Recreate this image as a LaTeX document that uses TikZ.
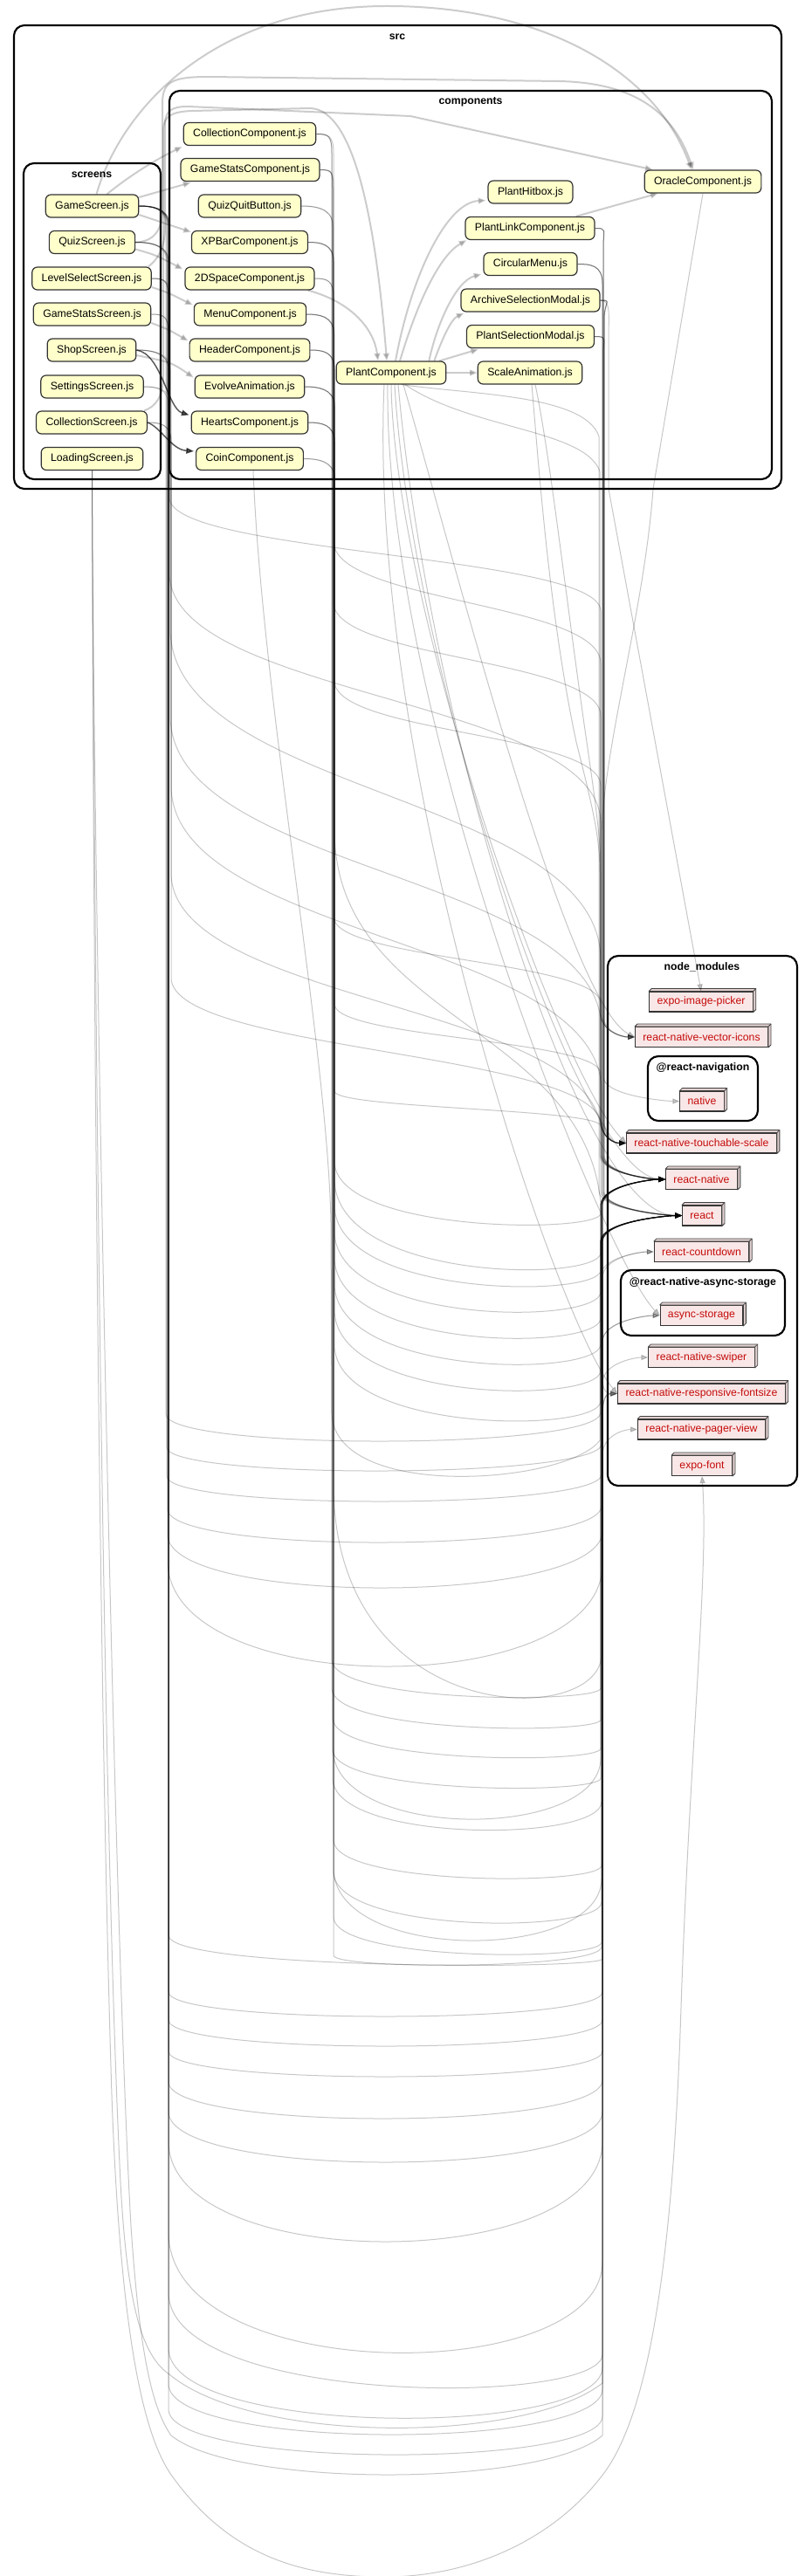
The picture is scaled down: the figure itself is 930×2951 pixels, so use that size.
\documentclass[tikz,border=0pt]{standalone}
\usepackage{fontspec}
\setmainfont{Liberation Sans}
\usetikzlibrary{arrows.meta,calc}
\definecolor{srcfill}{HTML}{FFFFCC}
\definecolor{nmfill}{RGB}{249,231,231}
\definecolor{nmside}{RGB}{226,208,208}
\definecolor{nmtext}{HTML}{C40B0A}
\newcommand\nfont{\fontsize{9.2}{11}\selectfont}
\newcommand\cfont{\bfseries\fontsize{9.2}{11}\selectfont}

\newcommand\nmnode[4]{%
  \node[nmn] (#1) at (#2,#3) {#4};
  \filldraw[nm3d] (#1.north west) -- ++(3,-3) -- ($(#1.north east)+(3,-3)$) -- ($(#1.south east)+(3,-3)$) -- (#1.south east) -- (#1.north east) -- cycle;
  \draw[nm3d] (#1.north east) -- ++(3,-3);}

\newcommand\uEdge[8]{%
  \pgfmathsetmacro\ucc{#5+(2*#5-#4-#7)/6}%
  \draw[#1] (#2.east) .. controls ($(#2.east)+(14,0)$) and ($(#2.east -| #3,0)+(0,2)$) .. ($(#2.east -| #3,0)+(0,22)$) -- (#3,#4) .. controls (#3,\ucc) and (#6,\ucc) .. (#6,#7) -- ($(#8.west -| #6,0)+(0,30)$) .. controls ($(#8.west -| #6,0)+(0,6)$) and ($(#8.west)+(-14,0)$) .. (#8.west);}

\newcommand\dEdge[7]{%
  \pgfmathsetmacro\dkk{(#6-#4)/2}%
  \draw[#1] (#2.east) .. controls ($(#2.east)+(14,0)$) and ($(#2.east -| #3,0)+(0,2)$) .. ($(#2.east -| #3,0)+(0,22)$) -- (#3,#4) .. controls (#3,#4+\dkk) and (#5,#6-\dkk) .. (#5,#6) -- ($(#7.west -| #5,0)+(0,-28)$) .. controls ($(#7.west -| #5,0)+(0,-6)$) and ($(#7.west)+(-14,0)$) .. (#7.west);}

\newcommand\tEdge[4]{%
  \draw[#1] (#2.east) .. controls ($(#2.east)+(14,0)$) and ($(#2.east -| #3,0)+(0,1)$) .. ($(#2.east -| #3,0)+(0,22)$) -- ($(#4.west -| #3,0)+(0,-28)$) .. controls ($(#4.west -| #3,0)+(0,-6)$) and ($(#4.west)+(-14,0)$) .. (#4.west);}

\newcommand\aEdge[4]{\draw[#1] #2 -- ($(#4.west -| #3,0)+(0,-28)$) .. controls ($(#4.west -| #3,0)+(0,-6)$) and ($(#4.west)+(-14,0)$) .. (#4.west);}
\newcommand\bEdge[4]{\draw[#1] #2 -- ($(#4.west -| #3,0)+(0,30)$) .. controls ($(#4.west -| #3,0)+(0,6)$) and ($(#4.west)+(-14,0)$) .. (#4.west);}

\begin{document}
\begin{tikzpicture}[x=0.75pt,y=-0.75pt,
  srcn/.style={draw=black!80, line width=0.9pt, fill=srcfill, rounded corners=4.5pt, minimum height=19.5pt, inner xsep=8.2pt, inner ysep=0pt, font=\nfont},
  nmn/.style={draw=black!80, line width=0.8pt, fill=nmfill, minimum height=17.2pt, inner xsep=6.6pt, inner ysep=0pt, text=nmtext, font=\nfont},
  nm3d/.style={draw=black!75, line width=0.6pt, fill=nmside, line join=round},
  clus/.style={draw=black, line width=1.6pt, rounded corners=9pt},
  clab/.style={font=\cfont, inner sep=0pt},
  edg/.style={draw=black, opacity=0.22, line width=0.75pt, -{Triangle[length=6pt,width=4.6pt]}},
  edgt/.style={draw=black, opacity=0.2, line width=1.5pt, -{Triangle[length=6.5pt,width=5pt]}},
  edgd/.style={draw=black, opacity=0.65, line width=1.1pt, -{Triangle[length=6.5pt,width=5pt]}},
]
\fill[white] (0,0) rectangle (930,2951);
\useasboundingbox (0,0) rectangle (930,2951);

% clusters
\draw[clus] (16,29) rectangle (895,560);
\node[clab] at (455,42) {src};
\draw[clus] (194,104) rectangle (884,549);
\node[clab] at (539,117) {components};
\draw[clus] (27,187) rectangle (184,549);
\node[clab] at (105,200) {screens};
\draw[clus] (696,1095) rectangle (913,1702);
\node[clab] at (804,1108) {node\_modules};
\draw[clus] (742,1210) rectangle (868,1284);
\node[clab] at (805,1223) {@react-navigation};
\draw[clus] (711,1455) rectangle (899,1530);
\node[clab] at (805,1469) {@react-native-async-storage};

% screens
\node[srcn] (GS) at (105.5,236) {GameScreen.js};
\node[srcn] (QS) at (105.5,277.5) {QuizScreen.js};
\node[srcn] (LS) at (105,319) {LevelSelectScreen.js};
\node[srcn] (GSS) at (105.5,360) {GameStatsScreen.js};
\node[srcn] (SS) at (105,401) {ShopScreen.js};
\node[srcn] (SeS) at (105.5,443) {SettingsScreen.js};
\node[srcn] (CS) at (105,484) {CollectionScreen.js};
\node[srcn] (LoS) at (105.5,525.5) {LoadingScreen.js};

% components column 1
\node[srcn] (CC) at (286,153.5) {CollectionComponent.js};
\node[srcn] (GSC) at (286.5,194.5) {GameStatsComponent.js};
\node[srcn] (QQB) at (286,236) {QuizQuitButton.js};
\node[srcn] (XP) at (286,277.5) {XPBarComponent.js};
\node[srcn] (TwoD) at (286,319) {2DSpaceComponent.js};
\node[srcn] (MC) at (286.5,360) {MenuComponent.js};
\node[srcn] (HC) at (286,401) {HeaderComponent.js};
\node[srcn] (EA) at (286,443) {EvolveAnimation.js};
\node[srcn] (HeC) at (286,484) {HeartsComponent.js};
\node[srcn] (CoC) at (286,525.5) {CoinComponent.js};

\node[srcn] (PC) at (448,427) {PlantComponent.js};

\node[srcn] (PH) at (607.5,220) {PlantHitbox.js};
\node[srcn] (PL) at (607,261.5) {PlantLinkComponent.js};
\node[srcn] (CM) at (607.5,302.5) {CircularMenu.js};
\node[srcn] (AS) at (607.5,344) {ArchiveSelectionModal.js};
\node[srcn] (PS) at (607.5,385.5) {PlantSelectionModal.js};
\node[srcn] (SA) at (607,427) {ScaleAnimation.js};

\node[srcn] (OC) at (805,208) {OracleComponent.js};

% node_modules
\nmnode{EIP}{803}{1147.5}{expo-image-picker}
\nmnode{VI}{803.5}{1188}{react-native-vector-icons}
\nmnode{NAV}{804}{1261.5}{native}
\nmnode{TS}{803.5}{1309.5}{react-native-touchable-scale}
\nmnode{RN}{803.5}{1351}{react-native}
\nmnode{RE}{804}{1392.5}{react}
\nmnode{CD}{803.5}{1434}{react-countdown}
\nmnode{AST}{803.5}{1507}{async-storage}
\nmnode{SW}{803.5}{1555}{react-native-swiper}
\nmnode{RF}{803.5}{1596.5}{react-native-responsive-fontsize}
\nmnode{PV}{803.5}{1637.5}{react-native-pager-view}
\nmnode{EF}{804}{1679}{expo-font}

% ---------- short edges inside src ----------
\draw[edgt] ($(GS.north)+(17,0)$) .. controls (150,200) and (180,182) .. ($(CC.south west)+(-1,1)$);
\draw[edgt] ($(GS.east)+(0,-10)$) -- ($(GSC.south west)+(12,1)$);
\draw[edgt] ($(GS.east)+(0,10)$) -- ($(XP.north west)+(0,2)$);
\draw[edgt] ($(QS.east)+(0,8)$) .. controls (178,292) .. ($(TwoD.north west)+(-2,3)$);
\draw[edgt] ($(LS.east)+(0,10)$) .. controls (192,335) .. ($(MC.north west)+(-1,3)$);
\draw[edgt] ($(GSS.east)+(0,10)$) .. controls (192,377) .. ($(HC.north west)+(-1,3)$);
\draw[edgt] ($(SS.east)+(0,6)$) .. controls (196,415) .. ($(EA.north west)+(-1,3)$);
\draw[edgd] (SS.east) .. controls (185,405) and (192,468) .. ($(HeC.north west)+(-2,5)$);
\draw[edgd] (CS.east) .. controls (185,490) and (196,515) .. ($(CoC.north west)+(-2,5)$);

% arcs to OracleComponent and PlantComponent
\draw[edgt] ($(GS.north)+(5,0)$) .. controls (140,120) and (250,8) .. (440,7) .. controls (620,6) and (750,80) .. ($(OC.north)+(-13,0)$);
\draw[edgt] (QS.east) .. controls (175,277) and (186,265) .. (186,240) -- (186,118) .. controls (186,92) and (200,88) .. (240,88) -- (640,93) .. controls (740,95) and (775,140) .. ($(OC.north)+(-11,0)$);
\draw[edgt] ($(LS.north east)+(-4,0)$) .. controls (180,298) and (189,285) .. (189,260) -- (189,142) .. controls (189,127) and (197,122) .. (215,122) -- (470,133) -- ($(OC.north west)+(10,0)$);
\draw[edgt] ($(CS.north east)+(-4,0)$) .. controls (178,466) and (187,455) .. (187,430) -- (187,150) .. controls (187,133) and (196,128) .. (220,127) -- (355,124) .. controls (405,125) and (430,250) .. ($(PC.north)+(-5,0)$);
\draw[edgt] ($(TwoD.south east)+(-8,0)$) .. controls (400,345) and (428,375) .. ($(PC.north)+(-15,0)$);

% PlantComponent fan
\draw[edgt] ($(PC.north)+(5,0)$) .. controls (470,320) and (510,232) .. ($(PH.south west)+(-2,-4)$);
\draw[edgt] ($(PC.north)+(10,0)$) .. controls (480,340) and (505,292) .. ($(PL.south west)+(2,0)$);
\draw[edgt] ($(PC.north east)+(-20,0)$) .. controls (500,372) and (522,322) .. ($(CM.south west)+(-2,-2)$);
\draw[edgt] ($(PC.north east)+(-14,0)$) .. controls (505,392) and (516,366) .. ($(AS.south west)+(4,1)$);
\draw[edgt] ($(PC.north east)+(-8,0)$) -- ($(PS.south west)+(14,1)$);
\draw[edgt] (PC.east) -- (SA.west);
\draw[edgt] ($(PL.north east)+(-22,0)$) -- ($(OC.south west)+(16,0)$);

% ---------- components column 3 down the right trunk ----------
\tEdge{edg}{PL}{691}{NAV}
\tEdge{edg}{PL}{691}{RN}
\tEdge{edg}{PL}{691}{RE}
\tEdge{edg}{CM}{690}{VI}
\tEdge{edg}{CM}{690}{RN}
\tEdge{edg}{CM}{690}{RE}
\tEdge{edg}{AS}{692}{TS}
\tEdge{edg}{AS}{692}{RN}
\tEdge{edg}{AS}{692}{RE}
\tEdge{edg}{PS}{691}{TS}
\tEdge{edg}{PS}{691}{RN}
\tEdge{edg}{PS}{691}{RE}
\draw[edg] (AS.east) .. controls (700,344) and (697,360) .. (697,390) -- (697,560) -- (EIP.north);
\aEdge{edg}{(OC.south) -- (748,560) .. controls (738,700) and (690,860) .. (689,960)}{689}{RN}
\aEdge{edg}{($(SA.south)+(2,0)$) .. controls (616,520) and (628,700) .. (660,850) .. controls (680,930) and (687,960) .. (687,1000)}{687}{RN}
\aEdge{edg}{($(SA.south)+(6,0)$) .. controls (630,520) and (650,700) .. (672,850) .. controls (682,920) and (688,960) .. (688,1000)}{688}{RE}

% PlantComponent to node_modules
\aEdge{edg}{($(PC.south)+(12,0)$) .. controls (540,452) and (670,452) .. (686,500) -- (686,560)}{686}{RE}
\aEdge{edg}{($(PC.south)+(16,0)$) .. controls (540,492) and (670,492) .. (687,540) -- (687,600)}{687}{TS}
\draw[edg] (PC.south) .. controls (452,700) and (640,1230) .. (TS.west);
\draw[edg] ($(PC.south)+(4,0)$) .. controls (470,760) and (660,1345) .. (RN.west);
\draw[edg] ($(PC.south)+(8,0)$) .. controls (490,820) and (660,1392) .. (RE.west);
\draw[edg] ($(PC.south)+(-4,0)$) .. controls (440,820) and (690,1440) .. (AST.west);
\draw[edg] ($(PC.south)+(-8,0)$) .. controls (420,880) and (640,1520) .. (RF.west);
\draw[edg] ($(PC.south)+(14,0)$) .. controls (520,640) and (650,1150) .. (VI.west);

% ---------- screens: S-curves from the left trunk ----------
\dEdge{edg}{GS}{194}{570}{688}{700}{VI}
\dEdge{edg}{GS}{194}{656}{688}{943}{TS}
\dEdge{edg}{LS}{195}{720}{688}{1100}{TS}
\dEdge{edg}{SS}{195}{820}{689}{1180}{TS}
\dEdge{edg}{SeS}{196}{900}{689}{1250}{RN}
\dEdge{edg}{CS}{196}{1000}{689}{1300}{RE}
\dEdge{edg}{CS}{196}{1120}{689}{1290}{RN}

% ---------- components column 1: S-curves from the middle trunk ----------
\dEdge{edg}{CC}{382}{620}{688}{760}{VI}
\dEdge{edg}{GSC}{382}{690}{688}{820}{TS}
\dEdge{edg}{MC}{383}{780}{688}{900}{VI}
\dEdge{edg}{HC}{383}{950}{689}{1400}{RF}
\dEdge{edg}{XP}{382}{1050}{688}{1150}{TS}
\dEdge{edg}{HeC}{383}{1150}{688}{1230}{TS}
\dEdge{edg}{EA}{383}{1250}{688}{1290}{RN}

% ---------- screens: U-curves from the left trunk ----------
\uEdge{edg}{GS}{190}{1620}{1651}{688}{1618}{RE}
\uEdge{edg}{GS}{191}{1658}{1685}{689}{1654}{RN}
\uEdge{edg}{QS}{191}{1691}{1720}{689}{1689}{RE}
\uEdge{edg}{QS}{192}{1729}{1767}{689}{1725}{RN}
\uEdge{edg}{GS}{192}{1758}{1819}{690}{1754}{AST}
\uEdge{edg}{GS}{192}{1788}{1909}{690}{1792}{CD}
\uEdge{edg}{SeS}{193}{2217}{2250}{690}{2244}{RE}
\uEdge{edg}{LS}{193}{2282}{2310}{690}{2282}{RE}
\uEdge{edg}{LS}{193}{2314}{2344}{690}{2314}{RN}
\uEdge{edg}{GS}{193}{2350}{2379}{690}{2350}{SW}
\uEdge{edg}{GSS}{193}{2385}{2427}{690}{2383}{RE}
\uEdge{edg}{GS}{193}{2419}{2477}{690}{2419}{RF}
\uEdge{edg}{QS}{193}{2453}{2568}{690}{2453}{AST}
\uEdge{edg}{GSS}{193}{2557}{2695}{690}{2591}{RN}
\uEdge{edg}{GS}{193}{2626}{2733}{690}{2697}{PV}
\uEdge{edg}{QS}{193}{2690}{2770}{690}{2712}{RF}
\uEdge{edg}{SS}{193}{2731}{2789}{690}{2737}{RE}
\uEdge{edg}{SS}{193}{2760}{2812}{690}{2768}{RN}

% LoadingScreen
\draw[edg] (LoS.south) .. controls (106,900) and (112,1900) .. (128,2400) .. controls (138,2680) and (165,2790) .. (196,2835) .. controls (260,2925) and (340,2952) .. (440,2952) .. controls (545,2952) and (640,2905) .. (694,2830) .. controls (750,2750) and (772,2550) .. (780,2300) .. controls (790,2000) and (812,1800) .. (EF.south);
\bEdge{edg}{(LoS.south) .. controls (107,1000) and (130,2200) .. (150,2550) .. controls (160,2700) and (175,2760) .. (196,2790) .. controls (270,2850) and (620,2850) .. (690,2790)}{690}{RE}
\bEdge{edg}{(LoS.south) .. controls (108,1100) and (118,2100) .. (138,2500) .. controls (146,2650) and (165,2700) .. (194,2720) .. controls (290,2800) and (600,2800) .. (690,2730)}{690}{RN}

% ---------- components column 1: U-curves from the middle trunk ----------
\uEdge{edg}{CC}{380}{1901}{1943}{688}{1934}{RE}
\uEdge{edg}{CC}{380}{1934}{1978}{688}{1970}{RN}
\uEdge{edg}{GSC}{381}{1968}{2012}{688}{2003}{RE}
\uEdge{edg}{GSC}{381}{2004}{2047}{688}{2037}{RN}
\uEdge{edg}{QQB}{381}{2002}{2084}{688}{2014}{RE}
\uEdge{edg}{QQB}{381}{2037}{2096}{689}{2064}{RN}
\uEdge{edg}{XP}{382}{2108}{2151}{689}{2137}{RE}
\uEdge{edg}{XP}{382}{2144}{2202}{689}{2179}{RN}
\uEdge{edg}{TwoD}{382}{2140}{2223}{689}{2152}{RE}
\uEdge{edg}{TwoD}{382}{2196}{2238}{689}{2225}{RN}
\uEdge{edg}{MC}{382}{2240}{2251}{689}{2230}{RE}
\uEdge{edg}{MC}{382}{1700}{1935}{689}{1895}{RN}
\uEdge{edg}{HC}{383}{1330}{1400}{688}{1390}{RN}
\uEdge{edg}{HC}{383}{1350}{1450}{688}{1435}{RE}
\uEdge{edg}{EA}{383}{1380}{1470}{688}{1455}{RN}
\uEdge{edg}{EA}{383}{1410}{1500}{688}{1480}{RE}
\uEdge{edg}{HeC}{383}{1440}{1530}{688}{1510}{RN}
\uEdge{edg}{HeC}{383}{1470}{1560}{688}{1540}{RE}
\uEdge{edg}{CoC}{383}{1500}{1590}{688}{1570}{RN}
\uEdge{edg}{CoC}{383}{1540}{1625}{688}{1605}{RE}
\bEdge{edg}{($(CoC.south)+(4,0)$) .. controls (300,800) and (375,1200) .. (379,1400) -- (380,1620) .. controls (385,1720) and (650,1700) .. (687,1650)}{687}{CD}
\end{tikzpicture}
\end{document}
